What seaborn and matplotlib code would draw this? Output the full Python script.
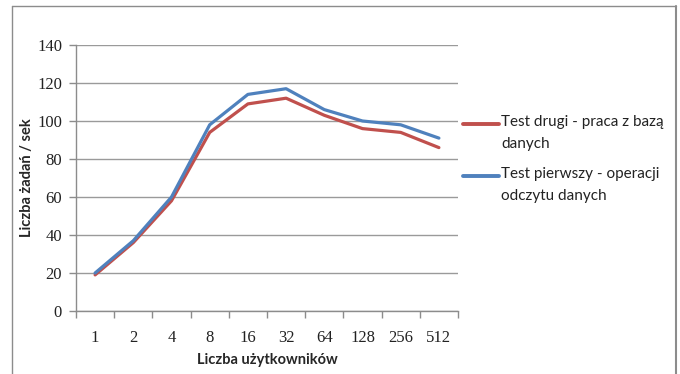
import matplotlib
matplotlib.use("Agg")
import matplotlib.pyplot as plt
from matplotlib.lines import Line2D
import numpy as np
import pandas as pd
import seaborn as sns

users = ["1", "2", "4", "8", "16", "32", "64", "128", "256", "512"]
test_db = [19, 36, 58, 94, 109, 112, 103, 96, 94, 86]
test_read = [20, 37, 60, 98, 114, 117, 106, 100, 98, 91]
series_names = ["Test drugi - praca z bazą\ndanych",
                "Test pierwszy - operacji\nodczytu danych"]
series_colors = ["#C0504D", "#4F81BD"]
y_ticks = [0, 20, 40, 60, 80, 100, 120, 140]

sns.set_theme(style="white")
plt.rcParams["font.family"] = ["Lato", "DejaVu Sans"]

df = pd.DataFrame({
    "users": users * 2,
    "value": test_db + test_read,
    "series": [series_names[0]] * len(users) + [series_names[1]] * len(users),
})

W, H = 680, 374
fig = plt.figure(figsize=(W / 100, H / 100), dpi=100)
ax = fig.add_axes([76 / W, 1 - 311 / H, 382 / W, 266 / H])

sns.lineplot(data=df, x="users", y="value", hue="series",
             hue_order=series_names, palette=series_colors,
             linewidth=2.3, sort=False, legend=False, ax=ax)

ax.set_ylim(0, 140)
ax.set_yticks(y_ticks)
ax.set_xlim(-0.5, len(users) - 0.5)
ax.set_xticks(np.arange(len(users)))
ax.set_xticklabels(users)
ax.set_xticks(np.arange(len(users) + 1) - 0.5, minor=True)

ax.grid(axis="y", color="#9a9a9a", linewidth=1.0)
ax.grid(axis="x", visible=False)
for side in ["top", "right"]:
    ax.spines[side].set_visible(False)
for side in ["left", "bottom"]:
    ax.spines[side].set_color("#8c8c8c")
    ax.spines[side].set_linewidth(1.0)

ax.tick_params(axis="y", which="major", left=True, length=5, width=1,
               color="#8c8c8c", pad=5)
ax.tick_params(axis="x", which="major", bottom=False, pad=8)
ax.tick_params(axis="x", which="minor", bottom=True, length=5, width=1,
               color="#8c8c8c")
for lbl in ax.get_xticklabels() + ax.get_yticklabels():
    lbl.set_family(["Liberation Serif", "DejaVu Serif"])
    lbl.set_fontsize(12)
    lbl.set_color("#222222")

ax.set_xlabel("Liczba użytkowników", fontsize=10.5, fontweight="bold",
              labelpad=5)
ax.set_ylabel("Liczba żadań / sek", fontsize=10.5, fontweight="bold")
ax.yaxis.set_label_coords(-42 / 382, 0.5)

# legend to the right of the plot: handle aligned with the first text line
legend_rows = [124, 176]
for name, color, y in zip(series_names, series_colors, legend_rows):
    fig.add_artist(Line2D([463 / W, 499 / W], [1 - y / H, 1 - y / H],
                          color=color, linewidth=2.8))
    fig.text(501 / W, 1 - (y - 9) / H, name, fontsize=11, color="#222222",
             va="top", ha="left", linespacing=1.75)

# outer chart border (left, top, right)
frame_color = "#8c8c8c"
fig.add_artist(Line2D([12 / W, 12 / W], [0, 1 - 6 / H],
                      color=frame_color, linewidth=1.0))
fig.add_artist(Line2D([12 / W, 676 / W], [1 - 6 / H, 1 - 6 / H],
                      color=frame_color, linewidth=1.0))
fig.add_artist(Line2D([676 / W, 676 / W], [0, 1 - 6 / H],
                      color=frame_color, linewidth=1.5))

fig.savefig("out.png", dpi=100)
